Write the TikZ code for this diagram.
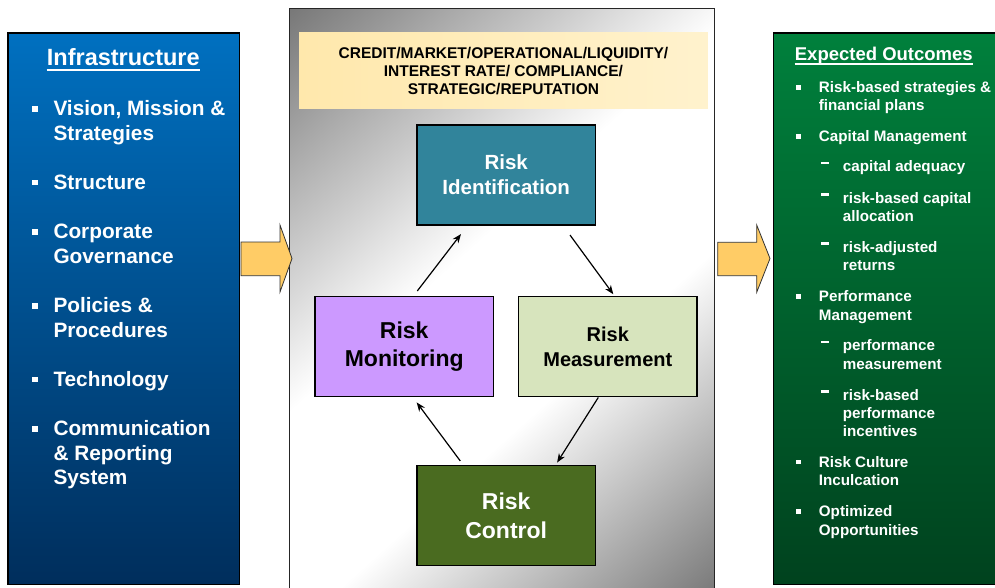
\documentclass[tikz,border=0pt]{standalone}
\usepackage{fontspec}
\setmainfont{Liberation Sans}
\usepackage{tikz}
\usetikzlibrary{arrows.meta,positioning,calc}

\definecolor{infratop}{RGB}{0,112,192}
\definecolor{infrabot}{RGB}{0,46,92}
\definecolor{outtop}{RGB}{0,128,60}
\definecolor{outbot}{RGB}{0,66,30}
\definecolor{riskband}{RGB}{255,232,172}
\definecolor{riskbandlt}{RGB}{255,242,205}
\definecolor{identfill}{RGB}{49,132,155}
\definecolor{monfill}{RGB}{204,153,255}
\definecolor{measfill}{RGB}{215,228,189}
\definecolor{ctrlfill}{RGB}{74,107,32}
\definecolor{bigarrow}{RGB}{255,204,102}

% grey glow behind the cycle, light along the diagonal
\pgfdeclareverticalshading{panelglow}{100bp}{color(0bp)=(black!60); color(15bp)=(black!53); color(40bp)=(white); color(56bp)=(white); color(88bp)=(black!58); color(100bp)=(black!62)}

% list markers
\newcommand{\lb}{\makebox[21.3pt][l]{\rule[4pt]{5.5pt}{5.7pt}}}
\newcommand{\lc}{\hspace*{21.3pt}}
\newcommand{\rb}{\makebox[22.7pt][l]{\rule[3pt]{4.6pt}{4.5pt}}}
\newcommand{\rc}{\hspace*{22.7pt}}
\newcommand{\rd}{\hspace*{25pt}\makebox[21.7pt][l]{\rule[7.5pt]{7.3pt}{2.4pt}}}
\newcommand{\rs}{\hspace*{46.7pt}}

\begin{document}
\begin{tikzpicture}[x=1pt, y=-1pt, every node/.style={font=\bfseries},
  panel/.style={draw=black, line width=1.5pt},
  stage/.style={rectangle, draw=black, line width=1.5pt, minimum width=178.5pt, minimum height=100pt, inner sep=0pt, align=center},
  flow/.style={-{Stealth[length=9pt,width=7pt]}, line width=1.2pt},
  feed/.style={draw=black!80, line width=0.8pt, fill=bigarrow},
  infraitem/.style={anchor=base west, inner sep=0pt, text=white, font=\bfseries\fontsize{20.8}{24}\selectfont},
  outitem/.style={anchor=base west, inner sep=0pt, text=white, font=\bfseries\fontsize{15.2}{18}\selectfont}]
\useasboundingbox (0,0) rectangle (995,588);

\draw[panel, top color=infratop, bottom color=infrabot] (8,33) rectangle (239.5,584.5);
\draw[panel, top color=outtop, bottom color=outbot] (773.3,33) rectangle (1000,584.5);
\draw[draw=black!85, line width=1pt, shading=panelglow, shading angle=42] (289,8.5) rectangle (714,600);

\draw[feed] (241,242) -- (280,242) -- (280,225) -- (292,258.5) -- (280,292) -- (280,275.7) -- (241,275.7) -- cycle;
\draw[feed] (717.7,242.3) -- (756.7,242.3) -- (756.7,225) -- (770,258.5) -- (756.7,292.3) -- (756.7,275.7) -- (717.7,275.7) -- cycle;

% infrastructure list
\node[anchor=base, inner sep=0pt, text=white, font=\bfseries\fontsize{23.5}{28}\selectfont] (infratitle) at (123.3,65.7) {Infrastructure};
\draw[white, line width=1.7pt] ([yshift=-4.5pt]infratitle.base west) -- ([yshift=-4.5pt]infratitle.base east);
\foreach \y/\t [count=\i] in {115.7/{\lb Vision, Mission \&}, 140.3/{\lc Strategies}, 189.5/{\lb Structure},
  238.7/{\lb Corporate}, 263.3/{\lc Governance}, 312.5/{\lb Policies \&}, 337.1/{\lc Procedures},
  386.3/{\lb Technology}, 435.5/{\lb Communication}, 460.1/{\lc \& Reporting}, 484.7/{\lc System}}
  \node[infraitem] (infra\i) at (32,\y) {\t};

% outcomes list
\node[anchor=base, inner sep=0pt, text=white, font=\bfseries\fontsize{18.5}{22}\selectfont] (outtitle) at (883.8,61) {Expected Outcomes};
\draw[white, line width=1.5pt] ([yshift=-3.2pt]outtitle.base west) -- ([yshift=-3.2pt]outtitle.base east);
\foreach \y/\t [count=\i] in {92.7/{\rb Risk-based strategies \&}, 111/{\rc financial plans}, 142/{\rb Capital Management},
  171.7/{\rd capital adequacy}, 203.3/{\rd risk-based capital}, 221.7/{\rs allocation},
  252.3/{\rd risk-adjusted}, 270.7/{\rs returns}, 301.7/{\rb Performance}, 320/{\rc Management},
  350.7/{\rd performance}, 369/{\rs measurement}, 400/{\rd risk-based}, 418.3/{\rs performance},
  436.7/{\rs incentives}, 467.3/{\rb Risk Culture}, 485.7/{\rc Inculcation}, 516.7/{\rb Optimized},
  535/{\rc Opportunities}}
  \node[outitem] (out\i) at (796,\y) {\t};

% risk cycle
\node[rectangle, inner sep=0pt, minimum width=408.7pt, minimum height=76pt, left color=riskband, right color=riskbandlt, align=center, font=\bfseries\fontsize{15.5}{18}\selectfont] (risktypes) at (503.4,70.7) {CREDIT/MARKET/OPERATIONAL/LIQUIDITY/\\INTEREST RATE/ COMPLIANCE/\\STRATEGIC/REPUTATION};
\node[stage, fill=identfill, text=white, font=\bfseries\fontsize{20.5}{25}\selectfont] (ident) at (506.2,175) {Risk\\Identification};
\node[stage, fill=monfill, font=\bfseries\fontsize{23}{27.3}\selectfont] (monitor) at (404.2,346.7) {Risk\\Monitoring};
\node[stage, fill=measfill, font=\bfseries\fontsize{20}{25}\selectfont, right of=monitor, node distance=203.6pt] (measure) {Risk\\Measurement};
\node[stage, fill=ctrlfill, text=white, font=\bfseries\fontsize{23}{29}\selectfont, below of=ident, node distance=340.7pt] (control) {Risk\\Control};
\draw[flow] ([xshift=13.1pt,yshift=5pt]monitor.north) -- ([xshift=-45.2pt,yshift=-8.3pt]ident.south);
\draw[flow] ([xshift=63.8pt,yshift=-9.3pt]ident.south) -- ([xshift=5.5pt,yshift=1.7pt]measure.north);
\draw[flow] ([xshift=-9.5pt]measure.south) -- ([xshift=50.9pt,yshift=2.4pt]control.north);
\draw[flow] ([xshift=-45.9pt,yshift=4pt]control.north) -- ([xshift=12.5pt,yshift=-5pt]monitor.south);
\end{tikzpicture}
\end{document}
